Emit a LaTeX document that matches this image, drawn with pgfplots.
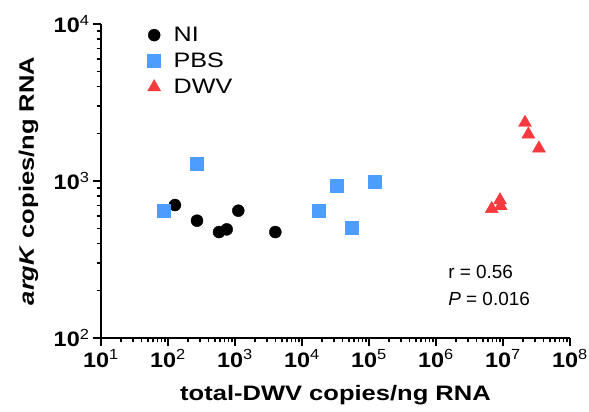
\documentclass[border=0pt]{standalone}
\usepackage{pgfplots}
\pgfplotsset{compat=1.18}
\usepackage{fontspec}
\setmainfont{Liberation Sans}
\definecolor{pbsblue}{RGB}{77,157,255}
\definecolor{dwvred}{RGB}{244,58,62}
\newcommand{\tl}[1]{\scalebox{1.12}[1]{\textbf{10}\textsuperscript{#1}}}
\begin{document}
\begin{tikzpicture}[x=1bp,y=1bp]
\path[use as bounding box] (-101,-73) rectangle (488,338);
\begin{axis}[
  at={(0,0)}, anchor=south west,
  scale only axis, width=469bp, height=314bp,
  xmode=log, ymode=log,
  xmin=10, xmax=1e8, ymin=100, ymax=1e4,
  axis x line*=bottom, axis y line*=left,
  axis line style={line width=2bp, black},
  every tick/.style={line width=1.5bp, black},
  major tick length=8bp, minor tick length=4.5bp,
  tick align=outside,
  xtick={1e1,1e2,1e3,1e4,1e5,1e6,1e7,1e8},
  xticklabels={\tl{1},\tl{2},\tl{3},\tl{4},\tl{5},\tl{6},\tl{7},\tl{8}},
  minor xtick={20,30,40,50,60,70,80,90,200,300,400,500,600,700,800,900,2000,3000,4000,5000,6000,7000,8000,9000,2e4,3e4,4e4,5e4,6e4,7e4,8e4,9e4,2e5,3e5,4e5,5e5,6e5,7e5,8e5,9e5,2e6,3e6,4e6,5e6,6e6,7e6,8e6,9e6,2e7,3e7,4e7,5e7,6e7,7e7,8e7,9e7},
  ytick={1e2,1e3,1e4},
  yticklabels={\tl{2},\tl{3},\tl{4}},
  minor ytick={200,300,400,500,600,700,800,900,2000,3000,4000,5000,6000,7000,8000,9000},
  ticklabel style={font=\fontsize{21}{25}\selectfont},
  xlabel={\scalebox{1.22}[1]{\textbf{total-DWV copies/ng RNA}}},
  ylabel={\scalebox{1.22}[1]{\textbf{\textit{argK} copies/ng RNA}}},
  label style={font=\fontsize{21}{25}\selectfont},
  xlabel style={at={(axis description cs:0.5,-0.1975)}, anchor=base},
  ylabel style={at={(axis description cs:-0.1429,0.5)}, anchor=base},
  clip=false,
  legend style={draw=none, fill=none, font=\fontsize{21}{25}\selectfont,
    at={(axis description cs:0.097,1.0)}, anchor=north west, row sep=6bp,
    inner sep=1bp,
    /tikz/every odd column/.append style={column sep=11bp}},
  legend cell align=left,
]
\addplot[only marks, mark=*, mark size=6bp, black] coordinates {
 (127,703) (271,559) (577,473) (752,492) (1120,647) (4000,473)
};
\addlegendentry{\scalebox{1.2}[1]{NI}}
\addplot[only marks, mark=square*, mark size=6.5bp, pbsblue, mark options={draw=pbsblue, fill=pbsblue}] coordinates {
 (87,644) (268,1297) (17700,644) (33300,929) (54400,502) (123000,986)
};
\addlegendentry{\scalebox{1.2}[1]{PBS}}
\addplot[only marks, mark=triangle*, mark size=7.5bp, dwvred, mark options={draw=dwvred, fill=dwvred}] coordinates {
 (2.13e7,2350) (2.39e7,1983) (3.44e7,1615) (6.78e6,664) (9.02e6,756) (9.25e6,693)
};
\addlegendentry{\scalebox{1.2}[1]{DWV}}
\node[anchor=base west, font=\fontsize{19}{23}\selectfont] at (axis description cs:0.733,0.191) {r = 0.56};
\node[anchor=base west, font=\fontsize{19}{23}\selectfont] at (axis description cs:0.733,0.105) {\textit{P} = 0.016};
\end{axis}
\end{tikzpicture}
\end{document}
